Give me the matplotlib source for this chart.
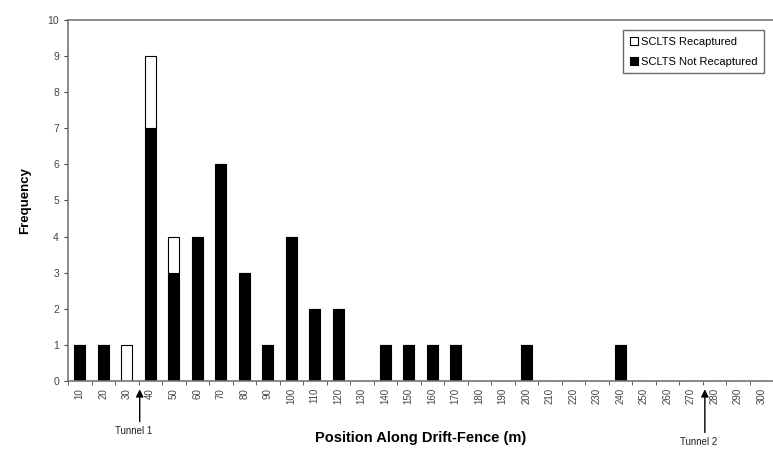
import numpy as np
import matplotlib.pyplot as plt

plt.rcParams['font.family'] = ['Liberation Sans', 'DejaVu Sans']

# data
positions = list(range(10, 310, 10))
not_recaptured = [1, 1, 0, 7, 3, 4, 6, 3, 1, 4, 2, 2, 0, 1, 1, 1, 1, 0, 0, 1,
                  0, 0, 0, 1, 0, 0, 0, 0, 0, 0]
recaptured = [0, 0, 1, 2, 1, 0, 0, 0, 0, 0, 0, 0, 0, 0, 0, 0, 0, 0, 0, 0,
              0, 0, 0, 0, 0, 0, 0, 0, 0, 0]
tunnels = ['Tunnel 1', 'Tunnel 2']
tunnel_pos = [2.55, 26.6]   # between the 30/40 and 270/280 bins

fig = plt.figure(figsize=(7.73, 4.51), dpi=100)
ax = fig.add_axes([0.088, 0.155, 0.912, 0.801])

x = np.arange(len(positions))
ax.bar(x, not_recaptured, width=0.48, color='black', edgecolor='black',
       linewidth=0.8, label='SCLTS Not Recaptured')
ax.bar(x, recaptured, width=0.48, bottom=not_recaptured, color='white',
       edgecolor='black', linewidth=0.8, label='SCLTS Recaptured')

ax.set_xlim(-0.5, len(positions) - 0.5)
ax.set_ylim(0, 10)
ax.set_yticks(range(0, 11))
ax.tick_params(axis='y', labelsize=7.5, direction='out', length=3, colors='#444444')
ax.set_xticks(x)
ax.set_xticklabels([str(p) for p in positions], rotation=90, fontsize=7,
                   color='#444444')
ax.tick_params(axis='x', length=0, pad=5)
ax.set_xticks(np.arange(-0.5, len(positions)), minor=True)
ax.tick_params(axis='x', which='minor', length=3, direction='out', colors='#444444')

for s in ['left', 'bottom', 'top']:
    ax.spines[s].set_color('#777777')
    ax.spines[s].set_linewidth(1.2)
ax.spines['right'].set_visible(False)

ax.set_xlabel('Position Along Drift-Fence (m)', fontsize=10.5, fontweight='bold',
              labelpad=19)
ax.set_ylabel('Frequency', fontsize=9.5, fontweight='bold', labelpad=12)

tails = [-1.2, -1.5]
for name, xp, tail in zip(tunnels, tunnel_pos, tails):
    ax.annotate('', xy=(xp, -0.15), xytext=(xp, tail),
                xycoords='data', textcoords='data', annotation_clip=False,
                arrowprops=dict(arrowstyle='-|>', color='black', lw=1,
                                mutation_scale=11))
    ax.text(xp - 0.25, tail - 0.05, name, ha='center', va='top', fontsize=7,
            color='#222222', clip_on=False)

h, l = ax.get_legend_handles_labels()
ax.legend(h[::-1], l[::-1], loc='upper right', fontsize=8, frameon=True,
          fancybox=False, edgecolor='#444444', handlelength=0.7,
          handleheight=0.7, handletextpad=0.3, borderaxespad=0.6,
          labelspacing=0.9, borderpad=0.6, bbox_to_anchor=(0.997, 0.99))

fig.savefig('out.png', dpi=100)
